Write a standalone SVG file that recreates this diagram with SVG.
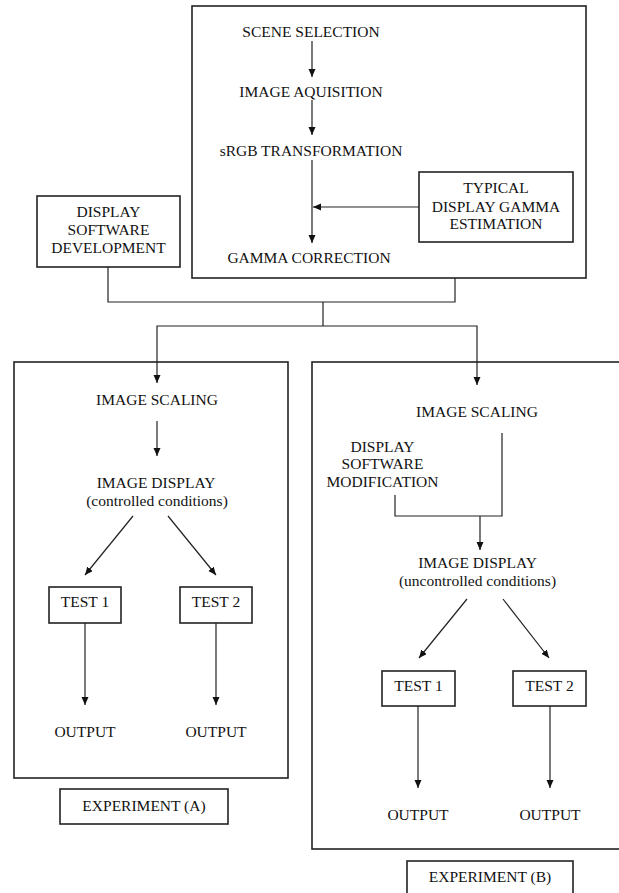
<svg xmlns="http://www.w3.org/2000/svg" width="619" height="893" viewBox="0 0 619 893">
<defs>
<style>
text{font-family:"Liberation Serif","Times New Roman",serif;font-size:15.5px;fill:#111;text-anchor:middle}
.box{fill:#fff;stroke:#222;stroke-width:1.6}
.c{fill:none;stroke:#222;stroke-width:1.2}
.a{fill:none;stroke:#222;stroke-width:1.2;marker-end:url(#ah)}
</style>
<marker id="ah" markerUnits="userSpaceOnUse" markerWidth="8" markerHeight="8" refX="8" refY="3.5" orient="auto">
<path d="M0,0 L8,3.5 L0,7 z" fill="#111"/>
</marker>
</defs>
<rect width="619" height="893" fill="#fff"/>

<g id="top-box">
<rect class="box" x="192" y="6" width="394" height="272"/>
</g>
<g id="scene-selection"><text x="311" y="37">SCENE SELECTION</text></g>
<g id="image-aquisition"><text x="311" y="97">IMAGE AQUISITION</text></g>
<g id="srgb"><text x="311" y="156">sRGB TRANSFORMATION</text></g>
<g id="gamma-correction"><text x="309" y="263">GAMMA CORRECTION</text></g>
<g id="typical-gamma">
<rect class="box" x="419" y="172" width="154" height="70"/>
<text x="496" y="193">TYPICAL</text>
<text x="496" y="212">DISPLAY GAMMA</text>
<text x="496" y="229">ESTIMATION</text>
</g>
<g id="display-software-dev">
<rect class="box" x="37" y="196" width="143" height="71"/>
<text x="108.5" y="217">DISPLAY</text>
<text x="108.5" y="235">SOFTWARE</text>
<text x="108.5" y="253">DEVELOPMENT</text>
</g>

<g id="experiment-a-box">
<rect class="box" x="14" y="362" width="274" height="416"/>
</g>
<g id="a-image-scaling"><text x="157" y="405">IMAGE SCALING</text></g>
<g id="a-image-display">
<text x="156" y="488">IMAGE DISPLAY</text>
<text x="157" y="506">(controlled conditions)</text>
</g>
<g id="a-test1"><rect class="box" x="49" y="587" width="72" height="36"/><text x="85" y="607">TEST 1</text></g>
<g id="a-test2"><rect class="box" x="180" y="587" width="72" height="36"/><text x="216" y="607">TEST 2</text></g>
<g id="a-output1"><text x="85" y="737">OUTPUT</text></g>
<g id="a-output2"><text x="216" y="737">OUTPUT</text></g>
<g id="experiment-a-label"><rect class="box" x="60" y="789" width="168" height="35"/><text x="144" y="811">EXPERIMENT (A)</text></g>

<g id="experiment-b-box">
<rect class="box" x="312" y="362" width="320" height="487"/>
</g>
<g id="b-image-scaling"><text x="477" y="417">IMAGE SCALING</text></g>
<g id="b-display-software-mod">
<text x="382.5" y="452">DISPLAY</text>
<text x="382.5" y="469">SOFTWARE</text>
<text x="382.5" y="487">MODIFICATION</text>
</g>
<g id="b-image-display">
<text x="477.5" y="568">IMAGE DISPLAY</text>
<text x="477.5" y="586">(uncontrolled conditions)</text>
</g>
<g id="b-test1"><rect class="box" x="382" y="671" width="73" height="35"/><text x="418.5" y="691">TEST 1</text></g>
<g id="b-test2"><rect class="box" x="513" y="671" width="73" height="35"/><text x="549.5" y="691">TEST 2</text></g>
<g id="b-output1"><text x="418" y="820">OUTPUT</text></g>
<g id="b-output2"><text x="550" y="820">OUTPUT</text></g>
<g id="experiment-b-label"><rect class="box" x="407" y="861" width="166" height="40"/><text x="490" y="882">EXPERIMENT (B)</text></g>

<g id="connectors">
<path class="a" d="M312,41 V77"/>
<path class="a" d="M312,100 V135"/>
<path class="a" d="M312,160 V243"/>
<path class="a" d="M419,207 H313"/>
<path class="c" d="M108,267 V302 H455 V278"/>
<path class="c" d="M323,302 V326"/>
<path class="a" d="M323,326 H157 V383"/>
<path class="a" d="M323,326 H477 V385"/>
<path class="a" d="M157,421 V456"/>
<path class="a" d="M133,516 L85,575"/>
<path class="a" d="M168,516 L216,575"/>
<path class="a" d="M85,623 V705"/>
<path class="a" d="M216,623 V705"/>
<path class="c" d="M502,433 V516 H395 V495"/>
<path class="a" d="M480,516 V550"/>
<path class="a" d="M467,599 L419,658"/>
<path class="a" d="M503,599 L549,658"/>
<path class="a" d="M418,706 V788"/>
<path class="a" d="M550,706 V788"/>
</g>
</svg>
